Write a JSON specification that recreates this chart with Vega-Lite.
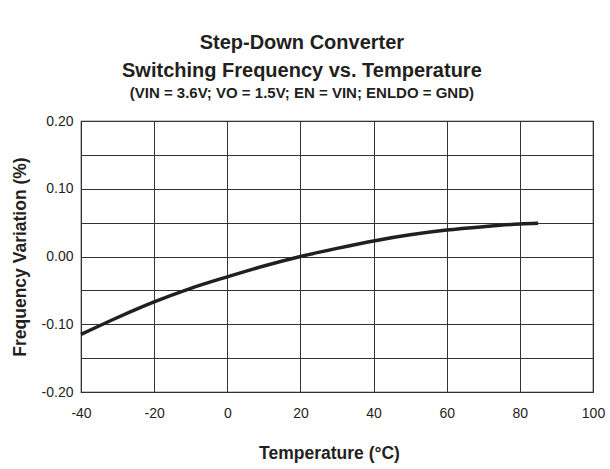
{
  "$schema": "https://vega.github.io/schema/vega-lite/v6.json",
  "autosize": {"type": "none"},
  "padding": {"left": 81, "top": 121, "right": 17, "bottom": 77},
  "width": 512,
  "height": 271,
  "background": "white",
  "title": {
    "text": ["Step-Down Converter", "Switching Frequency vs. Temperature"],
    "subtitle": "(VIN = 3.6V; VO = 1.5V; EN = VIN; ENLDO = GND)",
    "anchor": "middle",
    "frame": "bounds",
    "dx": -6,
    "font": "Liberation Sans",
    "fontSize": 20,
    "fontWeight": "bold",
    "lineHeight": 28,
    "color": "#231f20",
    "subtitleFont": "Liberation Sans",
    "subtitleFontSize": 15,
    "subtitleFontWeight": "bold",
    "subtitleColor": "#231f20",
    "subtitlePadding": 5,
    "offset": 13
  },
  "config": {
    "view": {"stroke": "#231f20", "strokeWidth": 1.2},
    "axis": {
      "labelFont": "Liberation Sans",
      "labelFontSize": 14,
      "labelColor": "#231f20",
      "titleFont": "Liberation Sans",
      "titleFontSize": 17.5,
      "titleFontWeight": "bold",
      "titleColor": "#231f20",
      "ticks": false,
      "domain": false,
      "grid": true,
      "gridColor": "#333333",
      "gridOpacity": 1,
      "gridWidth": 1
    }
  },
  "data": {
    "values": [
      {"t": -40, "f": -0.115},
      {"t": -30, "f": -0.090},
      {"t": -20, "f": -0.067},
      {"t": -10, "f": -0.047},
      {"t": 0, "f": -0.030},
      {"t": 10, "f": -0.014},
      {"t": 20, "f": 0.000},
      {"t": 30, "f": 0.012},
      {"t": 40, "f": 0.023},
      {"t": 50, "f": 0.032},
      {"t": 60, "f": 0.039},
      {"t": 70, "f": 0.044},
      {"t": 80, "f": 0.048},
      {"t": 85, "f": 0.049}
    ]
  },
  "mark": {"type": "line", "color": "#231f20", "strokeWidth": 3.5, "interpolate": "monotone"},
  "encoding": {
    "x": {
      "field": "t",
      "type": "quantitative",
      "scale": {"domain": [-40, 100], "nice": false},
      "axis": {
        "values": [-40, -20, 0, 20, 40, 60, 80, 100],
        "labelExpr": "replace(format(datum.value, 'd'), '−', '-')",
        "title": "Temperature (°C)",
        "titleX": 248,
        "labelPadding": 14,
        "titlePadding": 24,
        "labelFlush": false
      }
    },
    "y": {
      "field": "f",
      "type": "quantitative",
      "scale": {"domain": [-0.2, 0.2], "nice": false, "zero": false},
      "axis": {
        "values": [-0.2, -0.15, -0.1, -0.05, 0, 0.05, 0.1, 0.15, 0.2],
        "labelExpr": "round(datum.value*20) % 2 == 0 ? replace(format(datum.value, '.2f'), '−', '-') : ''",
        "title": "Frequency Variation (%)",
        "labelPadding": 8,
        "titlePadding": 12,
        "labelFlush": false
      }
    }
  }
}
